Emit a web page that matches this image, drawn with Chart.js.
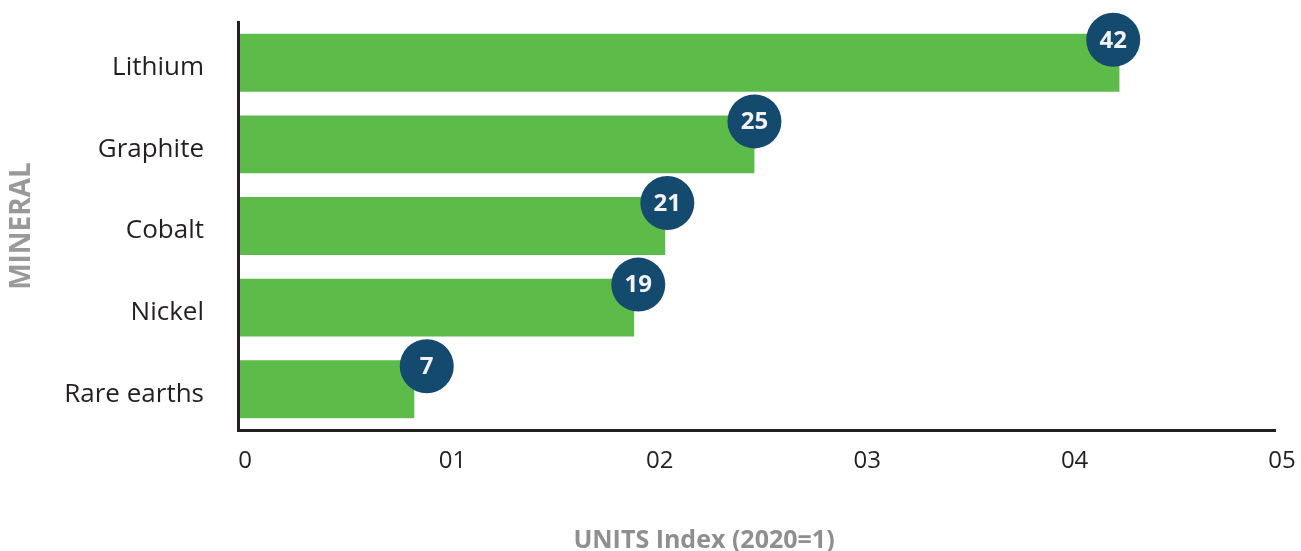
<!DOCTYPE html>
<html>
<head>
<meta charset="utf-8">
<script src="https://cdn.jsdelivr.net/npm/chart.js@4"></script>
<style>
  html, body { margin: 0; padding: 0; background: #fff; }
  #wrap { width: 1301px; height: 551px; position: relative; }
</style>
</head>
<body>
<div id="wrap"><canvas id="chart"></canvas></div>
<script>
// Data
const minerals = ['Lithium', 'Graphite', 'Cobalt', 'Nickel', 'Rare earths'];
const barValues = [42.5, 24.9, 20.6, 19.1, 8.5];     // bar lengths
const badgeLabels = ['42', '25', '21', '19', '7'];    // numbers in the circles
const badgePos = [42.2, 24.9, 20.7, 19.3, 9.1];       // where the circles sit on the x scale
const xTickLabels = ['0', '01', '02', '03', '04', '05'];

const FONT = "'Open Sans', sans-serif";

// Draws the dark circles with the numbers near the bar ends
const badgePlugin = {
  id: 'badges',
  afterDatasetsDraw(chart) {
    const ctx = chart.ctx;
    const meta = chart.getDatasetMeta(0);
    const xScale = chart.scales.x;
    meta.data.forEach((bar, i) => {
      const cx = xScale.getPixelForValue(badgePos[i]);
      const cy = bar.y - 23;
      ctx.save();
      ctx.beginPath();
      ctx.arc(cx, cy, 27, 0, Math.PI * 2);
      ctx.fillStyle = '#134a6d';
      ctx.fill();
      ctx.fillStyle = '#f2f2f2';
      ctx.font = "bold 24px " + FONT;
      ctx.textAlign = 'center';
      ctx.textBaseline = 'middle';
      ctx.fillText(badgeLabels[i], cx, cy + 1);
      ctx.restore();
    });
  },
  afterDraw(chart) {
    // x axis title, sits left of the plot centre in the reference
    const ctx = chart.ctx;
    ctx.save();
    ctx.fillStyle = '#8f8f8f';
    ctx.font = "bold 25px " + FONT;
    ctx.textAlign = 'center';
    ctx.textBaseline = 'middle';
    ctx.fillText('UNITS Index (2020=1)', 704, 541);
    ctx.restore();
  }
};

const ctx = document.getElementById('chart').getContext('2d');
new Chart(ctx, {
  type: 'bar',
  data: {
    labels: minerals,
    datasets: [{
      data: barValues,
      backgroundColor: '#5dbb4a',
      borderWidth: 0,
      barPercentage: 0.71,
      categoryPercentage: 1
    }]
  },
  options: {
    indexAxis: 'y',
    responsive: true,
    maintainAspectRatio: false,
    animation: false,
    layout: { padding: { top: 22, right: 26, bottom: 0, left: 0 } },
    plugins: {
      legend: { display: false },
      tooltip: { enabled: false }
    },
    scales: {
      x: {
        min: 0,
        max: 50,
        grid: { display: false, drawTicks: false },
        border: { display: true, color: '#231f20', width: 3, z: 1 },
        ticks: {
          stepSize: 10,
          padding: 17,
          labelOffset: 7,
          color: '#231f20',
          font: { family: FONT, size: 24 },
          callback: (value, index) => xTickLabels[index]
        },
        afterFit: (scale) => {
          scale.height = 121;
          scale.paddingLeft = 0;
          scale.paddingRight = 0;
        }
      },
      y: {
        grid: { display: false, drawTicks: false },
        border: { display: true, color: '#231f20', width: 3, z: 1 },
        ticks: {
          padding: 34,
          labelOffset: 5,
          color: '#231f20',
          font: { family: FONT, size: 26, weight: 500 }
        },
        title: {
          display: true,
          text: 'MINERAL',
          color: '#999999',
          font: { family: FONT, size: 28, weight: 'bold' },
          padding: { top: 5, bottom: 0 }
        },
        afterFit: (scale) => {
          scale.width = 238;
          scale.paddingTop = 0;
          scale.paddingBottom = 0;
        }
      }
    }
  },
  plugins: [badgePlugin]
});
</script>
</body>
</html>
